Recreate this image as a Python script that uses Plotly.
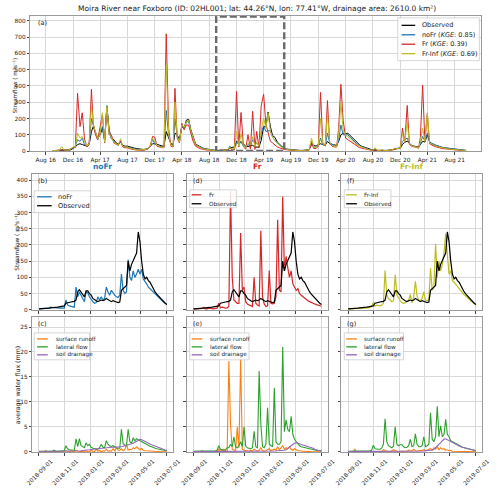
import pandas as pd
import plotly.graph_objects as go

W, H = 500, 491
FONT = "DejaVu Sans"

# ---------------- panel (a): dekadal values (1st, 11th, 21st of each month), Sep 2016 - Sep 2021
obs_a = [
    3, 3, 3, 4, 4, 5, 6, 6, 8,
    15, 25, 40, 45, 40, 35, 30, 40, 120, 150, 110, 80,
    100, 140, 70, 275, 130, 80, 70, 50, 45, 55, 35, 30,
    30, 25, 20, 18, 15, 12, 10, 10, 12, 15, 30, 45,
    45, 40, 35, 30, 28, 120, 80, 45, 40, 110, 100, 70,
    150, 140, 190, 195, 130, 90, 45, 35, 25, 20, 15, 12,
    10, 8, 5, 3, 3, 4, 6, 7, 8, 20, 22, 25,
    60, 50, 58, 45, 30, 28, 30, 35, 25, 24, 24, 65,
    150, 150, 240, 150, 95, 85, 55, 42, 30, 16, 12, 10,
    8, 6, 5, 5, 4, 4, 5, 6, 8, 40, 35, 30,
    40, 45, 40, 35, 60, 45, 40, 38, 35, 60, 100, 110,
    105, 110, 95, 80, 65, 55, 40, 30, 25, 18, 14, 10,
    6, 5, 4, 4, 4, 3, 4, 5, 6, 10, 14, 15,
    18, 40, 55, 60, 45, 35, 30, 28, 25, 40, 60, 55,
    100, 60, 40, 38, 32, 28, 24, 20, 18, 16, 14, 12,
    10, 9, 8, 6, 5, 4,
]
nofr_a = [
    3, 3, 4, 5, 8, 10, 8, 8, 12,
    20, 30, 70, 60, 80, 40, 30, 50, 200, 160, 120, 70,
    110, 150, 60, 280, 120, 75, 60, 45, 40, 60, 30, 25,
    25, 20, 15, 12, 10, 8, 8, 8, 10, 15, 35, 70,
    45, 35, 30, 25, 25, 250, 90, 40, 35, 200, 90, 60,
    160, 140, 175, 185, 120, 80, 40, 30, 22, 18, 12, 10,
    8, 6, 4, 3, 3, 5, 7, 6, 5, 30, 12, 9,
    55, 40, 55, 30, 22, 40, 30, 70, 60, 45, 40, 110,
    155, 120, 125, 125, 85, 65, 48, 38, 28, 16, 12, 9,
    6, 5, 4, 4, 3, 3, 4, 5, 8, 60, 25, 20,
    35, 80, 40, 35, 110, 50, 40, 35, 30, 70, 160, 100,
    100, 100, 85, 70, 55, 45, 35, 28, 22, 15, 12, 8,
    5, 12, 4, 3, 6, 3, 3, 5, 6, 12, 16, 18,
    20, 60, 70, 80, 45, 35, 30, 25, 22, 50, 90, 60,
    110, 55, 50, 42, 35, 30, 25, 22, 20, 18, 15, 13,
    12, 10, 8, 6, 5, 4,
]
fr_a = [
    2, 2, 3, 4, 6, 8, 6, 5, 12,
    25, 20, 355, 150, 235, 75, 25, 50, 380, 170, 100, 70,
    145, 225, 50, 270, 100, 100, 50, 40, 35, 65, 25, 20,
    20, 15, 10, 8, 6, 5, 5, 5, 8, 12, 30, 90,
    85, 30, 25, 20, 20, 720, 135, 30, 25, 385, 80, 50,
    170, 130, 160, 160, 100, 60, 30, 22, 15, 12, 8, 6,
    6, 4, 3, 2, 3, 8, 4, 3, 5, 20, 8, 6,
    366, 25, 237, 25, 12, 100, 12, 244, 10, 121, 20, 278,
    349, 165, 120, 60, 50, 38, 25, 20, 14, 11, 8, 6,
    5, 4, 3, 3, 2, 2, 3, 4, 6, 50, 15, 15,
    30, 360, 50, 30, 310, 45, 30, 25, 25, 140, 410, 190,
    80, 70, 60, 50, 40, 30, 22, 18, 14, 10, 8, 6,
    4, 8, 3, 2, 4, 2, 3, 4, 5, 8, 12, 14,
    20, 140, 50, 280, 40, 30, 25, 20, 18, 85, 405, 60,
    230, 45, 35, 30, 25, 20, 18, 15, 13, 11, 9, 8,
    7, 6, 5, 4, 3, 3,
]
frinf_a = [
    3, 3, 4, 5, 28, 8, 6, 6, 14,
    25, 25, 110, 80, 90, 60, 30, 45, 280, 165, 120, 75,
    105, 235, 55, 275, 110, 80, 55, 45, 40, 75, 30, 25,
    25, 18, 14, 10, 8, 7, 7, 7, 10, 14, 35, 80,
    60, 35, 30, 22, 22, 530, 100, 35, 30, 300, 90, 55,
    160, 145, 180, 190, 125, 85, 40, 30, 22, 16, 12, 10,
    8, 5, 4, 2, 4, 6, 5, 5, 10, 22, 12, 14,
    121, 30, 108, 28, 22, 47, 40, 88, 28, 55, 30, 128,
    203, 140, 235, 120, 85, 65, 46, 36, 23, 15, 11, 8,
    6, 5, 4, 4, 3, 3, 4, 5, 8, 80, 25, 20,
    35, 200, 45, 35, 225, 50, 35, 30, 28, 100, 300, 130,
    95, 90, 75, 65, 50, 40, 30, 25, 20, 14, 10, 7,
    5, 20, 4, 3, 8, 3, 3, 5, 6, 12, 18, 15,
    20, 110, 55, 180, 45, 33, 28, 24, 20, 60, 140, 60,
    235, 50, 42, 36, 30, 26, 22, 19, 17, 14, 12, 10,
    9, 8, 7, 5, 4, 3,
]

# ---------------- panels (b)-(g): every 4 days from 2018-09-01
obs_d = [
    3, 3, 3, 3, 4, 5, 5, 6,
    6, 7, 8, 8, 9, 10, 10, 12,
    20, 22, 22, 24, 25, 26, 30, 55,
    62, 55, 45, 40, 58, 58, 50, 45,
    35, 30, 28, 25, 28, 30, 28, 30,
    35, 32, 28, 25, 28, 25, 24, 22,
    24, 60, 65, 70, 75, 150, 120, 140,
    150, 165, 175, 240, 210, 150, 110, 95,
    100, 90, 85, 75, 62, 55, 48, 42,
    36, 30, 25, 20, 16,
]
nofr_d = [
    3, 3, 3, 4, 4, 5, 6, 8,
    7, 6, 7, 6, 5, 5, 4, 5,
    30, 15, 12, 10, 9, 8, 70, 40,
    55, 45, 35, 25, 55, 52, 40, 30,
    25, 20, 22, 40, 30, 40, 30, 35,
    70, 55, 45, 60, 50, 45, 40, 38,
    45, 110, 60, 50, 55, 155, 100, 90,
    120, 100, 110, 125, 110, 125, 95, 85,
    80, 70, 65, 58, 52, 48, 42, 38,
    33, 28, 24, 20, 16,
]
fr_d = [
    2, 2, 3, 2, 3, 4, 8, 3,
    3, 5, 4, 3, 3, 4, 5, 20,
    6, 8, 6, 5, 6, 10, 366, 100,
    30, 25, 20, 20, 237, 60, 70, 25,
    18, 15, 12, 10, 100, 20, 15, 12,
    244, 40, 18, 10, 12, 121, 20, 18,
    20, 40, 278, 60, 55, 349, 120, 165,
    130, 100, 120, 80, 70, 60, 65, 50,
    45, 40, 36, 32, 28, 25, 22, 20,
    18, 16, 14, 12, 11,
]
frinf_d = [
    2, 2, 3, 3, 4, 4, 6, 4,
    4, 5, 5, 5, 6, 8, 10, 22,
    12, 14, 12, 12, 14, 20, 121, 45,
    35, 30, 25, 28, 108, 45, 35, 28,
    22, 20, 22, 25, 30, 47, 22, 40,
    88, 42, 30, 28, 35, 55, 30, 28,
    32, 128, 60, 70, 203, 100, 150, 120,
    140, 175, 235, 170, 110, 120, 90, 85,
    80, 72, 65, 58, 52, 46, 42, 36,
    32, 27, 23, 19, 15,
]
sr_nofr = [
    0, 0, 0, 0, 0.2, 0, 0, 0,
    0, 0, 0.1, 0, 0, 0, 0, 0.1,
    0.2, 0.1, 0, 0.2, 0, 0, 0.3, 0.1,
    0.1, 0, 0.1, 0, 0.2, 0, 0, 0.3,
    0.1, 0, 0.5, 0.1, 0.3, 0, 0.2, 0.1,
    0.5, 0.1, 0.2, 0.1, 0.6, 0.2, 0.8, 0.3,
    0.3, 0.6, 0.2, 0.4, 1.5, 0.3, 0.5, 0.4,
    0.8, 0.6, 1.0, 0.7, 0.4, 0.7, 0.3, 0.2,
    0.2, 0.1, 0.2, 0.1, 0.1, 0.1, 0, 0.1,
    0, 0, 0, 0, 0,
]
lf_nofr = [
    0.1, 0.1, 0.1, 0.2, 0.1, 0.1, 0.2, 0.1,
    0.1, 0.3, 0.1, 0.1, 0.1, 0.1, 0.2, 0.2,
    1.2, 0.6, 0.4, 0.3, 0.3, 0.3, 2.6, 1.0,
    2.6, 1.2, 0.9, 0.8, 1.8, 1.2, 1.5, 0.9,
    0.7, 0.6, 0.5, 0.5, 0.8, 1.5, 0.9, 0.8,
    2.2, 1.5, 1.2, 1.0, 1.2, 0.9, 0.8, 0.7,
    0.7, 4.5, 1.6, 1.3, 1.2, 4.5, 2.0, 1.7,
    2.8, 2.2, 2.6, 2.4, 2.2, 2.0, 1.8, 1.6,
    1.5, 1.3, 1.1, 1.0, 0.8, 0.7, 0.6, 0.5,
    0.4, 0.35, 0.3, 0.25, 0.2,
]
sd_nofr = [
    0.05, 0.05, 0.05, 0.05, 0.05, 0.05, 0.05, 0.05,
    0.05, 0.05, 0.05, 0.05, 0.05, 0.05, 0.05, 0.05,
    0.1, 0.1, 0.1, 0.1, 0.1, 0.1, 0.15, 0.2,
    0.2, 0.2, 0.25, 0.25, 0.3, 0.35, 0.4, 0.45,
    0.5, 0.5, 0.55, 0.6, 0.6, 0.65, 0.7, 0.7,
    0.8, 0.85, 0.85, 0.9, 0.9, 0.9, 0.9, 0.9,
    0.95, 1.0, 1.1, 1.2, 1.25, 1.3, 1.4, 1.5,
    1.7, 1.9, 2.1, 2.3, 2.5, 2.4, 2.2, 2.0,
    1.85, 1.7, 1.55, 1.4, 1.25, 1.1, 0.95, 0.85,
    0.7, 0.6, 0.45, 0.35, 0.25,
]
sr_fr = [
    0, 0, 0.1, 0, 0, 0.2, 0, 0,
    0, 0.1, 0, 0, 0, 0.1, 0, 0.5,
    0.1, 0.3, 0.5, 0.2, 0.1, 18.2, 5.4, 0.5,
    0.3, 0.2, 5.0, 0.8, 18.6, 0.5, 0.3, 0.2,
    0.2, 0.1, 0.3, 0.1, 0.5, 0.2, 0.1, 0.3,
    0.8, 0.2, 0.1, 0.2, 0.4, 0.6, 0.2, 0.3,
    0.5, 0.3, 1.0, 0.4, 0.8, 1.2, 0.5, 0.8,
    0.6, 1.0, 0.5, 0.3, 0.6, 0.3, 0.2, 0.2,
    0.1, 0.1, 0.1, 0, 0.1, 0, 0, 0,
    0, 0, 0, 0, 0,
]
lf_fr = [
    0.1, 0.1, 0.2, 0.1, 0.1, 0.2, 0.1, 0.1,
    0.2, 0.1, 0.1, 0.2, 0.1, 0.2, 0.3, 1.2,
    0.5, 0.4, 0.3, 0.4, 0.8, 0.8, 1.5, 1.0,
    3.0, 1.0, 0.8, 1.2, 2.0, 1.0, 5.0, 1.2,
    0.8, 0.7, 0.6, 0.8, 4.1, 1.0, 0.8, 16.2,
    5.5, 1.0, 0.8, 1.5, 8.8, 1.5, 1.2, 1.0,
    12.8, 2.0, 1.5, 1.5, 2.0, 21.0, 4.0, 6.4,
    4.5, 4.0, 7.1, 3.5, 2.5, 2.0, 1.5, 1.2,
    1.0, 0.9, 0.8, 0.7, 0.6, 0.5, 0.45, 0.4,
    0.35, 0.3, 0.25, 0.2, 0.2,
]
sd_fr = [
    0.02, 0.02, 0.02, 0.02, 0.02, 0.02, 0.02, 0.02,
    0.02, 0.02, 0.02, 0.02, 0.02, 0.02, 0.02, 0.02,
    0.02, 0.02, 0.02, 0.02, 0.02, 0.02, 0.02, 0.02,
    0.02, 0.02, 0.02, 0.02, 0.02, 0.02, 0.02, 0.02,
    0.02, 0.02, 0.02, 0.02, 0.02, 0.02, 0.02, 0.02,
    0.05, 0.05, 0.05, 0.1, 0.1, 0.1, 0.1, 0.1,
    0.15, 0.15, 0.2, 0.2, 0.2, 0.25, 0.3, 0.4,
    0.6, 0.9, 1.2, 1.5, 1.7, 1.8, 1.7, 1.6,
    1.5, 1.4, 1.25, 1.1, 1.0, 0.9, 0.8, 0.7,
    0.5, 0.4, 0.3, 0.2, 0.1,
]
sr_frinf = [
    0, 0, 0, 0, 0.5, 0, 0, 0,
    0, 0, 0, 0.1, 0, 0.1, 0, 0,
    0.1, 0, 0, 0, 0, 0.4, 0.2, 0.1,
    0.1, 0, 0.2, 0.4, 0.2, 0.1, 0, 0.1,
    0.1, 0.1, 0.2, 0.1, 0.3, 0.1, 0.1, 0.5,
    0.2, 0.1, 0.2, 0.3, 0.2, 0.4, 0.2, 0.3,
    0.4, 0.6, 0.3, 0.8, 0.5, 1.0, 0.4, 0.8,
    0.5, 0.6, 0.3, 0.4, 0.2, 0.3, 0.1, 0.1,
    0.1, 0, 0.1, 0, 0, 0, 0, 0,
    0, 0, 0, 0, 0,
]
lf_frinf = [
    0.1, 0.1, 0.2, 0.1, 0.1, 0.2, 0.1, 0.1,
    0.1, 0.2, 0.1, 0.1, 0.2, 0.2, 0.3, 1.3,
    0.6, 0.5, 0.5, 0.5, 0.7, 1.5, 6.6, 2.0,
    1.2, 1.0, 0.8, 1.2, 5.0, 1.5, 1.2, 1.4,
    1.4, 1.0, 0.8, 0.9, 1.2, 2.5, 1.0, 1.2,
    3.6, 1.5, 1.0, 1.0, 1.2, 3.0, 1.0, 1.2,
    1.5, 7.8, 2.5, 2.0, 3.0, 9.1, 3.0, 5.2,
    3.0, 3.5, 6.5, 3.5, 3.0, 2.2, 2.0, 1.8,
    1.6, 1.4, 1.2, 1.1, 0.9, 0.8, 0.7, 0.6,
    0.5, 0.45, 0.35, 0.3, 0.2,
]
sd_frinf = [
    0.02, 0.02, 0.02, 0.02, 0.02, 0.02, 0.02, 0.02,
    0.02, 0.02, 0.02, 0.02, 0.02, 0.02, 0.02, 0.02,
    0.02, 0.02, 0.02, 0.02, 0.02, 0.02, 0.02, 0.02,
    0.02, 0.02, 0.02, 0.02, 0.02, 0.02, 0.02, 0.02,
    0.02, 0.02, 0.02, 0.02, 0.02, 0.02, 0.02, 0.02,
    0.05, 0.05, 0.1, 0.1, 0.1, 0.15, 0.2, 0.2,
    0.25, 0.3, 0.35, 0.5, 0.8, 1.0, 1.5, 1.8,
    2.2, 2.5, 2.6, 2.4, 2.2, 2.0, 1.8, 1.6,
    1.45, 1.3, 1.15, 1.0, 0.9, 0.8, 0.7, 0.6,
    0.5, 0.45, 0.35, 0.3, 0.2,
]

months_a = pd.date_range("2016-09-01", "2021-09-01", freq="MS")
dates_a = [m + pd.Timedelta(days=d) for m in months_a for d in (0, 10, 20)]
dates_d = list(pd.date_range("2018-09-01", periods=77, freq="4D"))

C_OBS, C_NOFR, C_FR, C_FRINF = "#000000", "#1f77b4", "#d62728", "#bcbd22"
C_SR, C_LF, C_SD = "#ff7f0e", "#2ca02c", "#9467bd"


def px(x):
    return x / W


def py(y):
    return 1 - y / H


fig = go.Figure()


def add_line(xs, ys, color, ax, width):
    fig.add_trace(go.Scatter(
        x=xs[:len(ys)], y=ys, mode="lines",
        line=dict(color=color, width=width),
        xaxis="x" + ax, yaxis="y" + ax, showlegend=False, hoverinfo="skip"))


# panel (a)
for ys, c in [(obs_a, C_OBS), (nofr_a, C_NOFR), (fr_a, C_FR), (frinf_a, C_FRINF)]:
    add_line(dates_a, ys, c, "", 1.0)
# panels (b), (d), (f)
for ax, model, c in [("2", nofr_d, C_NOFR), ("3", fr_d, C_FR), ("4", frinf_d, C_FRINF)]:
    add_line(dates_d, model, c, ax, 1.2)
    add_line(dates_d, obs_d, C_OBS, ax, 1.2)
# panels (c), (e), (g)
for ax, sr, lf, sd in [("5", sr_nofr, lf_nofr, sd_nofr), ("6", sr_fr, lf_fr, sd_fr),
                       ("7", sr_frinf, lf_frinf, sd_frinf)]:
    add_line(dates_d, sr, C_SR, ax, 1.1)
    add_line(dates_d, lf, C_LF, ax, 1.1)
    add_line(dates_d, sd, C_SD, ax, 1.1)

tickfont = dict(family=FONT, size=5.8, color="#222")
common = dict(showline=True, linecolor="#9a9a9a", linewidth=1, mirror=True,
              ticks="outside", ticklen=2.5, tickwidth=0.8, tickcolor="#444",
              showgrid=True, gridcolor="#d8d8d8", gridwidth=0.8, zeroline=False,
              tickfont=tickfont)

A_X, A_Y = (25, 489), (16, 152)
COLS = [(27, 172), (186, 331), (345, 490)]
MID_Y, BOT_Y = (175, 312), (319, 455)
DET_RANGE = ["2018-08-16", "2019-07-17"]

layout = dict(
    width=W, height=H, margin=dict(l=0, r=0, t=0, b=0),
    paper_bgcolor="white", plot_bgcolor="white", showlegend=False,
    font=dict(family=FONT, color="#222"),
)
layout["xaxis"] = dict(common, domain=[px(A_X[0]), px(A_X[1])], anchor="y",
                       range=["2016-05-24", "2021-11-28"], type="date",
                       tick0="2016-08-01", dtick="M4", tickformat="%b %y")
layout["yaxis"] = dict(common, domain=[py(A_Y[1]), py(A_Y[0])], anchor="x",
                       range=[0, 830], dtick=100)
for ax, col, row in [("2", 0, MID_Y), ("3", 1, MID_Y), ("4", 2, MID_Y),
                     ("5", 0, BOT_Y), ("6", 1, BOT_Y), ("7", 2, BOT_Y)]:
    bottom = row == BOT_Y
    xa = dict(common, domain=[px(COLS[col][0]), px(COLS[col][1])], anchor="y" + ax,
              range=DET_RANGE, type="date", tick0="2018-09-01", dtick="M2",
              showticklabels=bottom)
    if bottom:
        xa.update(tickformat="%Y-%m-%d", tickangle=-45, ticklabelshift=12)
    ya = dict(common, domain=[py(row[1]), py(row[0])], anchor="x" + ax,
              showticklabels=(col == 0))
    if bottom:
        ya.update(range=[-0.1, 27], dtick=5)
    else:
        ya.update(range=[-1, 419], dtick=50)
    layout["xaxis" + ax] = xa
    layout["yaxis" + ax] = ya
fig.update_layout(**layout)

# dashed highlight of the detailed period
fig.add_shape(type="rect", xref="x", yref="y", x0=dates_d[0], x1=dates_d[-1], y0=0, y1=826,
              line=dict(color="#6a6a6a", width=2.4, dash="7px,3px"), fillcolor="rgba(0,0,0,0)")

annotations = []


def ann(text, x, y, size, color="#222", xanchor="center", angle=0, weight="normal"):
    annotations.append(dict(text=text, x=px(x), y=py(y), xref="paper", yref="paper",
                            xanchor=xanchor, yanchor="middle", textangle=angle,
                            showarrow=False,
                            font=dict(family=FONT, size=size, color=color, weight=weight)))


ann("Moira River near Foxboro (ID: 02HL001; lat: 44.26°N, lon: 77.41°W, drainage area: 2610.0 km²)",
    258, 8.5, 7.5)
ann("noFr", 99.5, 167.5, 7.5, C_NOFR, weight="bold")
ann("Fr", 258.5, 167.5, 7.5, C_FR, weight="bold")
ann("Fr-Inf", 417.5, 167.5, 7.5, C_FRINF, weight="bold")
ann("Streamflow ( m³s⁻¹)", 10, 86, 5.6, angle=-90)
ann("Streamflow ( m³s⁻¹)", 10.5, 243, 5.8, angle=-90)
ann("average water flux (mm)", 12, 387, 6.3, angle=-90)
for lab, x, y in [("(a)", 31, 23), ("(b)", 31, 182), ("(c)", 31, 326), ("(d)", 190, 182),
                  ("(e)", 190, 326), ("(f)", 349, 182), ("(g)", 349, 326)]:
    ann(lab, x, y, 6.5, xanchor="left")


def legend(box, entries, lx, tx, size):
    x0, y0, x1, y1 = box
    fig.add_shape(type="rect", xref="paper", yref="paper", x0=px(x0), x1=px(x1),
                  y0=py(y1), y1=py(y0), line=dict(color="#cccccc", width=0.8),
                  fillcolor="rgba(255,255,255,0.85)")
    for label, color, y in entries:
        fig.add_shape(type="line", xref="paper", yref="paper", x0=px(lx[0]), x1=px(lx[1]),
                      y0=py(y), y1=py(y), line=dict(color=color, width=1.3))
        ann(label, tx, y, size, xanchor="left")


legend((403, 18, 487, 61),
       [("Observed", C_OBS, 25.5), ("noFr (<i>KGE</i>: 0.85)", C_NOFR, 35),
        ("Fr (<i>KGE</i>: 0.39)", C_FR, 44.5), ("Fr-Inf (<i>KGE</i>: 0.69)", C_FRINF, 54)],
       (407, 421), 426, 6.5)
legend((29, 192, 87, 214), [("noFr", C_NOFR, 198), ("Observed", C_OBS, 207)], (32, 47), 51.5, 6.6)
legend((189, 191, 237, 209), [("Fr", C_FR, 196), ("Observed", C_OBS, 205)], (191, 201), 206.5, 5.7)
legend((348, 191, 396, 209), [("Fr-Inf", C_FRINF, 196), ("Observed", C_OBS, 205)], (350, 361), 366.5, 5.7)
comp = [("surface runoff", C_SR, 341), ("lateral flow", C_LF, 349), ("soil drainage", C_SD, 357)]
legend((29, 335, 86, 362), comp, (32, 43), 49, 5.7)
legend((189, 335, 250, 362), comp, (191, 202), 207.5, 5.7)
legend((348, 335, 409, 362), comp, (350, 361), 366.5, 5.7)

fig.update_layout(annotations=annotations)
fig.write_html("out.html")
